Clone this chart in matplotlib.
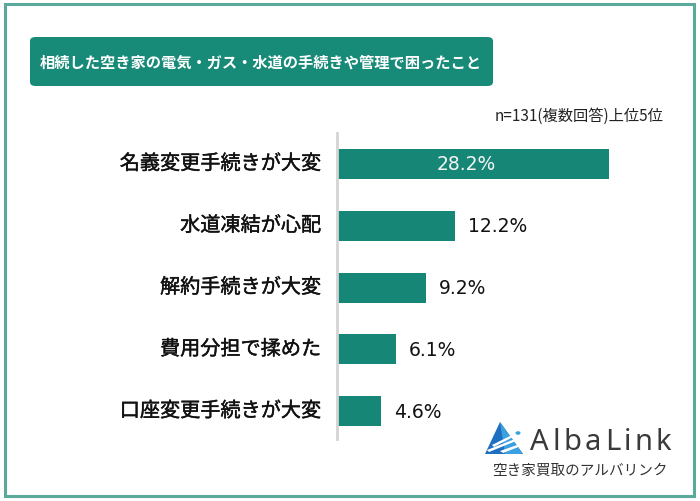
import matplotlib
matplotlib.use("Agg")
import matplotlib.pyplot as plt
import matplotlib.patheffects as pe
from matplotlib.patches import Rectangle, FancyBboxPatch, Polygon, Circle

plt.rcParams["font.family"] = ["Noto Sans CJK JP", "DejaVu Sans"]

title = "相続した空き家の電気・ガス・水道の手続きや管理で困ったこと"
note = "n=131(複数回答)上位5位"
categories = ["名義変更手続きが大変", "水道凍結が心配", "解約手続きが大変", "費用分担で揉めた", "口座変更手続きが大変"]
values = [28.2, 12.2, 9.2, 6.1, 4.6]

W, H = 700, 502
GREEN = "#168776"
thick = [pe.withStroke(linewidth=0.3, foreground="#111111")]


def fx(x):
    return x / W


def fy(y):
    return 1 - y / H


fig = plt.figure(figsize=(7, 5.02), dpi=100)
fig.patch.set_facecolor("white")

# outer frame
fig.patches.append(Rectangle((fx(5), fy(497)), fx(689), 492 / H, transform=fig.transFigure,
                             fill=False, edgecolor="#5ba99b", linewidth=2.2))

# title box
fig.patches.append(FancyBboxPatch((fx(30), fy(87)), fx(463), 49 / H,
                                  boxstyle="round,pad=0,rounding_size=0.008",
                                  transform=fig.transFigure, facecolor="#178a78", edgecolor="none"))
fig.text(fx(261), fy(63), title, color="white", fontsize=11, fontweight="bold",
         ha="center", va="center")
fig.text(fx(663), fy(116), note, fontsize=11, color="#222222", ha="right", va="center")

# bars
px_per_pct = 9.65
ax = fig.add_axes([fx(337), fy(440), fx(30 * px_per_pct), 306 / H])
ypos = list(range(len(values)))
ax.barh(ypos, values, height=0.486, color=GREEN)
ax.set_xlim(0, 30)
ax.set_ylim(4.45, -0.5)
ax.set_xticks([])
ax.set_yticks([])
for s in ["top", "right", "bottom"]:
    ax.spines[s].set_visible(False)
ax.spines["left"].set_color("#d4d4d4")
ax.spines["left"].set_linewidth(2)
ax.patch.set_alpha(0)

for i, (c, v) in enumerate(zip(categories, values)):
    ax.annotate(c, (0, i), xytext=(-16, 0), textcoords="offset pixels",
                ha="right", va="center", fontsize=14.5, color="#111111", path_effects=thick)
    if i == 0:
        ax.text(v / 2 - 0.7, i, f"{v}%", ha="center", va="center", fontsize=13.5,
                color="#f4f4f4", family="DejaVu Sans")
    else:
        ax.annotate(f"{v}%", (v, i), xytext=(13, 0), textcoords="offset pixels",
                    ha="left", va="center", fontsize=13.5, color="#111111",
                    family="DejaVu Sans")

# logo
def P(pts, color):
    fig.patches.append(Polygon([(fx(x), fy(y)) for x, y in pts], closed=True,
                               transform=fig.transFigure, facecolor=color, edgecolor="none"))


P([(500, 423), (485, 455), (523, 455)], "#1f6fc0")
P([(500, 423), (505, 455), (523, 455)], "#3aa0e0")
P([(487, 451), (515, 440), (516, 442), (489, 453)], "white")
P([(492, 446), (512, 436), (513, 438), (494, 448)], "white")
P([(500, 452), (520, 445), (521, 447), (503, 454)], "white")
fig.patches.append(Circle((fx(518), fy(434)), 1.8 / H, transform=fig.transFigure,
                          facecolor="#3aa0e0", edgecolor="none"))

# "AlbaLink" with wide letter spacing
fig.canvas.draw()
renderer = fig.canvas.get_renderer()
x = 530
for ch in "AlbaLink":
    t = fig.text(fx(x), fy(443), ch, fontsize=21, color="#3a3a3a", ha="left", va="center",
                 family="Noto Sans")
    x += t.get_window_extent(renderer).width + 3.5

fig.text(fx(580), fy(471), "空き家買取のアルバリンク", fontsize=10.5, color="#333333",
         ha="center", va="center")

fig.savefig("out.png", dpi=100)
